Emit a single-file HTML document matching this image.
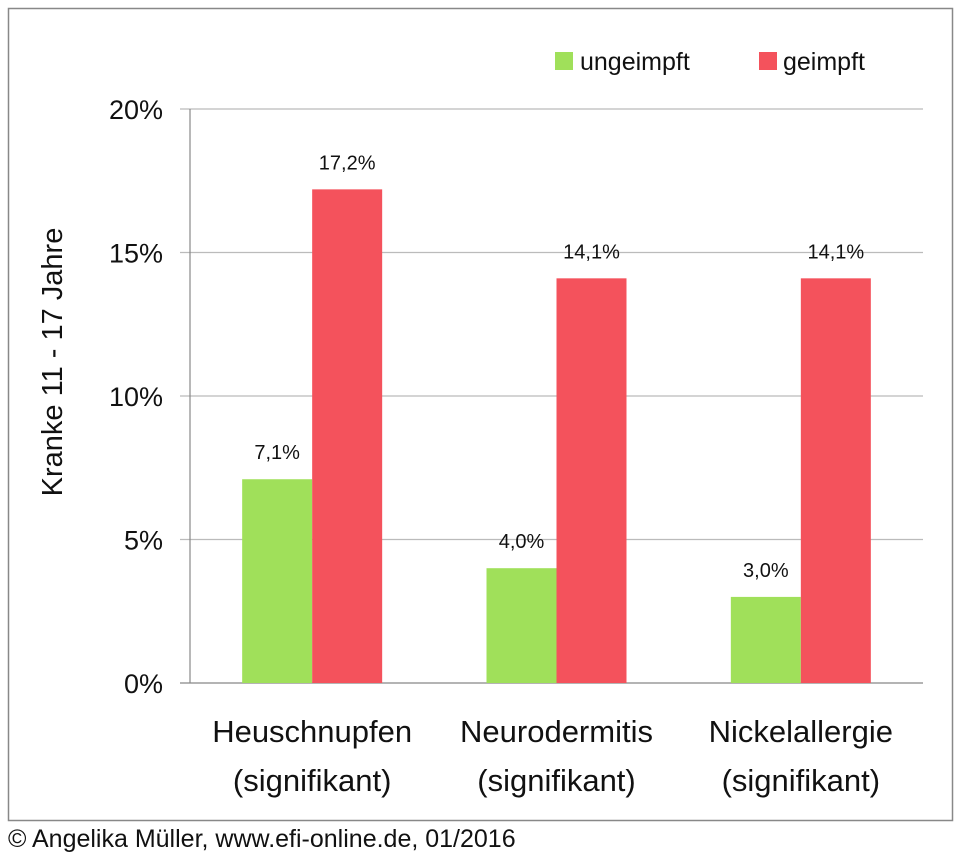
<!DOCTYPE html>
<html><head><meta charset="utf-8"><style>
html,body{margin:0;padding:0;background:#fff;width:967px;height:859px;overflow:hidden}
svg text{font-family:"Liberation Sans","DejaVu Sans",sans-serif;fill:#111}
</style></head><body>
<svg width="967" height="859" xmlns="http://www.w3.org/2000/svg">
<rect x="8.5" y="8.5" width="944" height="812" fill="#fff" stroke="#888" stroke-width="1.5"/>
<g id="grid"></g><g id="bars"></g><g id="labels"></g>
<g>
<rect x="555" y="52" width="18" height="18" fill="#a0e05a"/>
<text x="580" y="70" font-size="25">ungeimpft</text>
<rect x="759" y="52" width="18" height="18" fill="#f4525c"/>
<text x="783" y="70" font-size="25">geimpft</text>
</g>
<text transform="translate(62,362) rotate(-90)" text-anchor="middle" font-size="29">Kranke 11 - 17 Jahre</text>
<text x="8" y="847" font-size="25">© Angelika Müller, www.efi-online.de, 01/2016</text>
</svg>
<script>
const categories=["Heuschnupfen","Neurodermitis","Nickelallergie"];
const sublabels=["(signifikant)","(signifikant)","(signifikant)"];
const ungeimpft=[7.1,4.0,3.0];
const geimpft=[17.2,14.1,14.1];
const ticks=[0,5,10,15,20];
const tickLabels=["0%","5%","10%","15%","20%"];
const NS="http://www.w3.org/2000/svg";
const L=190,R=923,T=109,B=683,MAX=20;
const y=v=>B-(v/MAX)*(B-T);
const bw=(R-L)/categories.length;
const xc=i=>L+bw*(i+0.5);
const barW=70;
function mk(tag,attrs,parent,txt){const e=document.createElementNS(NS,tag);for(const k in attrs)e.setAttribute(k,attrs[k]);if(txt!==undefined)e.textContent=txt;parent.appendChild(e);return e;}
const grid=document.getElementById('grid'),bars=document.getElementById('bars'),labels=document.getElementById('labels');
ticks.forEach((t,i)=>{
  const g=mk('line',{x1:180,x2:(t===0?R:R),y1:y(t),y2:y(t),stroke:(t===0?'#888':'#bbb'),'stroke-width':1.2},grid);
  
  
  const tl=mk('text',{x:163,y:y(t)+10,'text-anchor':'end','font-size':27},labels,tickLabels[i]);
  
  
});
const ax=mk('line',{x1:L,x2:L,y1:T,y2:B,stroke:'#888','stroke-width':1.2},grid);


const fmt=v=>v.toFixed(1).replace('.',',')+'%';
categories.forEach((c,i)=>{
  const cx=xc(i);
  const g1=mk('rect',{x:cx-barW,y:y(ungeimpft[i]),width:barW,height:B-y(ungeimpft[i]),fill:'#a0e05a'},bars);
  
  
  const g2=mk('rect',{x:cx,y:y(geimpft[i]),width:barW,height:B-y(geimpft[i]),fill:'#f4525c'},bars);
  
  
  const l1=mk('text',{x:cx-barW/2,y:y(ungeimpft[i])-20,'text-anchor':'middle','font-size':20},labels,fmt(ungeimpft[i]));
  
  
  const l2=mk('text',{x:cx+barW/2,y:y(geimpft[i])-20,'text-anchor':'middle','font-size':20},labels,fmt(geimpft[i]));
  
  
  const cl=mk('text',{x:cx,y:742,'text-anchor':'middle','font-size':31},labels,c);
  
  
  const sl=mk('text',{x:cx,y:791,'text-anchor':'middle','font-size':31},labels,sublabels[i]);
  
  
});
</script>
</body></html>
